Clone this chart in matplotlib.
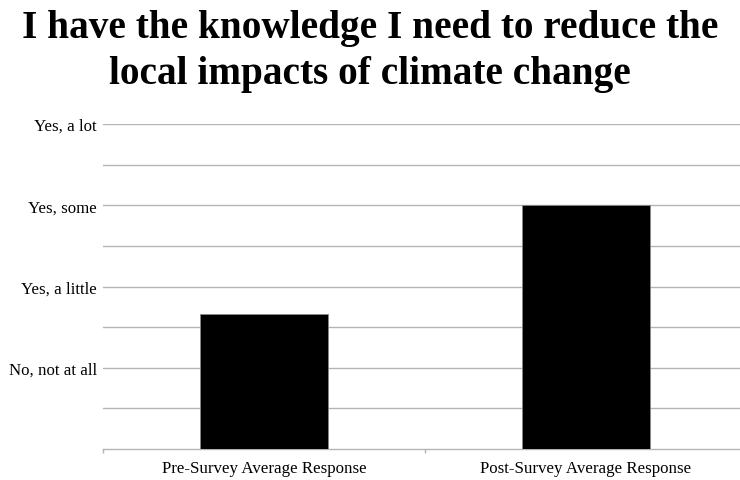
import matplotlib.pyplot as plt
import numpy as np

categories = ['Pre-Survey Average Response', 'Post-Survey Average Response']
values = [1.66, 3.0]
level_labels = ['No, not at all', 'Yes, a little', 'Yes, some', 'Yes, a lot']
level_values = [1, 2, 3, 4]

plt.rcParams['font.family'] = ['Liberation Serif', 'DejaVu Serif']

fig = plt.figure(figsize=(7.4, 4.81), dpi=100)
ax = fig.add_axes([103 / 740, 31 / 481, 644 / 740, 325 / 481])

x = np.arange(len(categories))
ax.bar(x, values, width=0.4, color='black', edgecolor='#888888',
       linewidth=0.6, zorder=3)

ax.set_xlim(-0.5, len(categories) - 0.5)
ax.set_ylim(0, 4)

# half-step gridlines, labelled only on the whole answers
ax.set_yticks(level_values)
ax.set_yticklabels(level_labels, fontsize=12.2)
ax.set_yticks(np.arange(0.5, 4.01, 0.5), minor=True)
ax.grid(axis='y', which='both', color='#b4b4b4', linewidth=1, zorder=0)
ax.tick_params(axis='y', which='both', length=0, pad=4.5)

# category labels centred under bars, small ticks on the boundaries
ax.set_xticks(x)
ax.set_xticklabels(categories, fontsize=12.2)
ax.tick_params(axis='x', which='major', length=0, pad=8)
ax.set_xticks(np.arange(-0.5, len(categories), 1.0), minor=True)
ax.tick_params(axis='x', which='minor', length=3, color='#b4b4b4', width=1)

for side in ['left', 'right', 'top']:
    ax.spines[side].set_visible(False)
ax.spines['bottom'].set_color('#b4b4b4')
ax.spines['bottom'].set_linewidth(1)

fig.text(0.5, 1 - 10 / 481, 'I have the knowledge I need to reduce the\nlocal impacts of climate change',
         ha='center', va='top', fontsize=28.3, fontweight='bold', linespacing=1.32)

fig.savefig('out.png', dpi=100)
